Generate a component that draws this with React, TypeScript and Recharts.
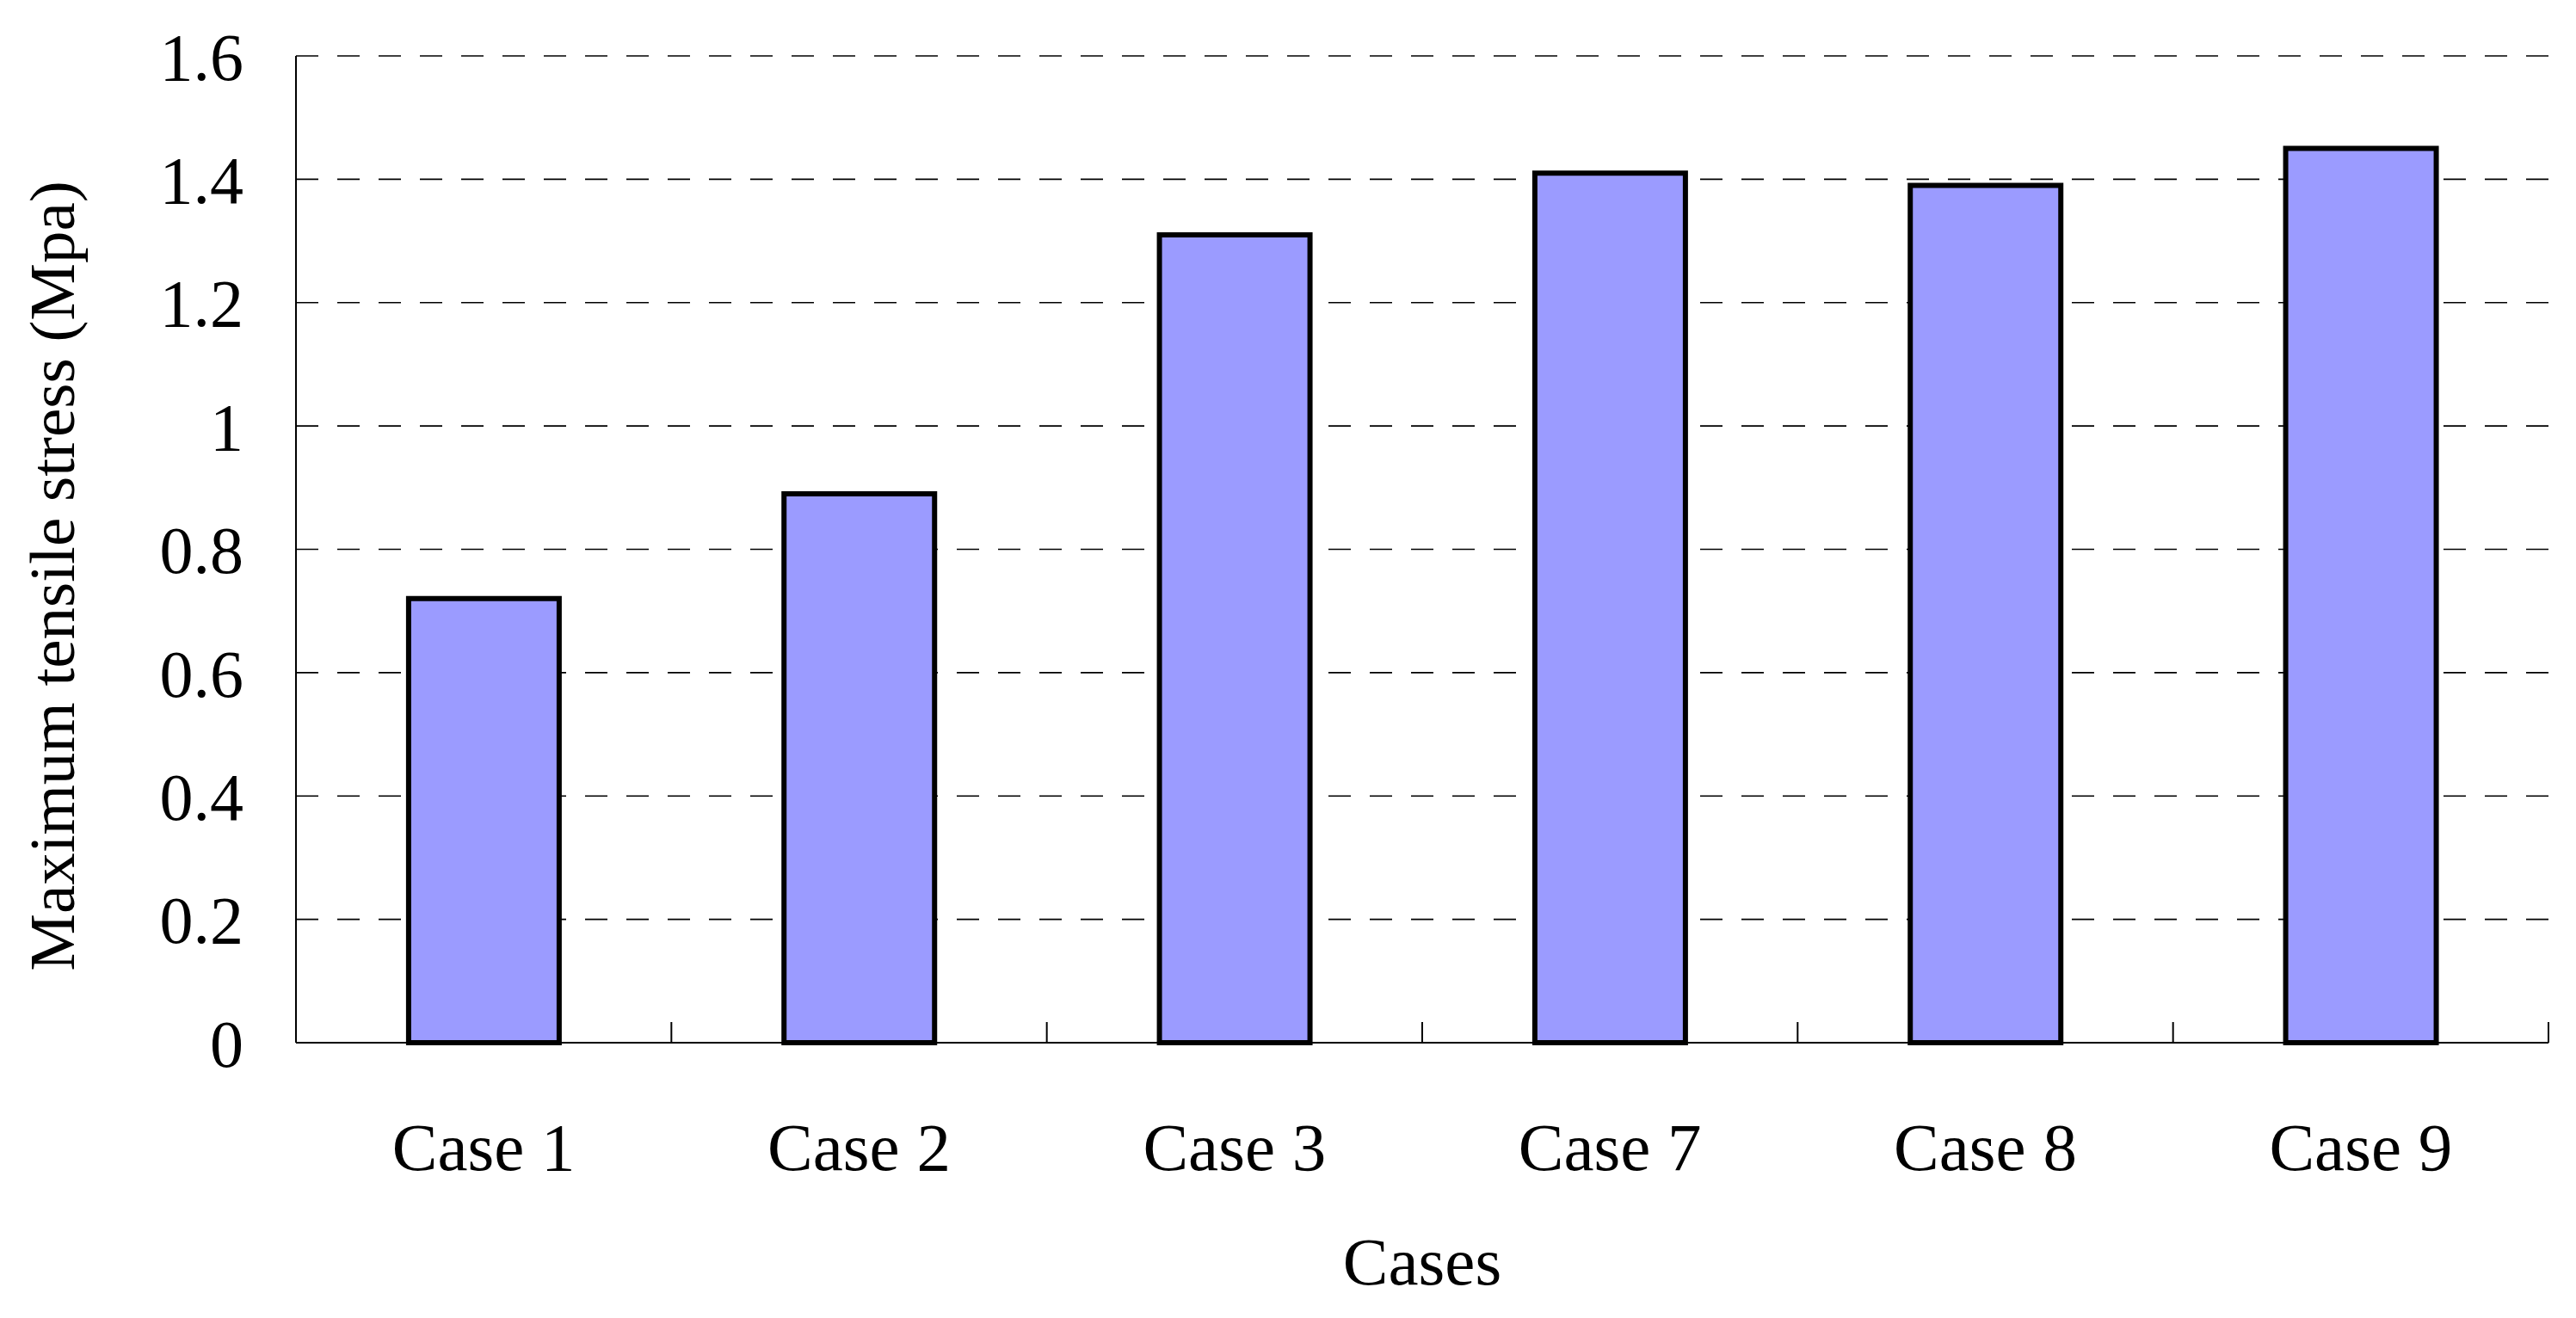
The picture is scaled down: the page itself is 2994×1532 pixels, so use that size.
import React from "react";
import { BarChart, Bar, XAxis, YAxis, CartesianGrid } from "recharts";

const categories = ["Case 1", "Case 2", "Case 3", "Case 7", "Case 8", "Case 9"];
const stressValues = [0.72, 0.89, 1.31, 1.41, 1.39, 1.45];
const yTicks = [0, 0.2, 0.4, 0.6, 0.8, 1, 1.2, 1.4, 1.6];

const data = categories.map((name, i) => ({ name, stress: stressValues[i] }));

const FONT = "'Liberation Serif', 'Times New Roman', serif";
const X_TICK_MARGIN = 92;
const EDGE_TICK = 24;

// category label plus the small upward tick at the right edge of its band
const CaseTick = (props: any) => {
  const { x, y, payload, width, visibleTicksCount } = props;
  const band = (width || 2618) / (visibleTicksCount || categories.length);
  const axisY = y - X_TICK_MARGIN;
  const edgeX = x + band / 2;
  return (
    <g>
      <line x1={edgeX} x2={edgeX} y1={axisY} y2={axisY - EDGE_TICK} stroke="#000" strokeWidth={2} />
      <text
        x={x}
        y={y}
        dy="0.71em"
        textAnchor="middle"
        fontFamily={FONT}
        fontSize={79}
        fill="#000"
      >
        {payload.value}
      </text>
    </g>
  );
};

const YTitle = (props: any) => {
  const vb = props.viewBox || {};
  const x = vb.x + 78;
  const y = vb.y + vb.height / 2 + 31;
  return (
    <text
      x={x}
      y={y}
      transform={`rotate(-90, ${x}, ${y})`}
      textAnchor="middle"
      fontFamily={FONT}
      fontSize={75}
      fill="#000"
    >
      Maximum tensile stress (Mpa)
    </text>
  );
};

export default function App() {
  return (
    <div style={{ width: 2978, height: 1516 }}>
      <BarChart
        width={2978}
        height={1516}
        data={data}
        margin={{ top: 57, right: 24, bottom: 0, left: 0 }}
        barCategoryGap="30%"
      >
        <CartesianGrid
          vertical={false}
          stroke="#000"
          strokeWidth={1.6}
          strokeDasharray="26 22"
        />
        <XAxis
          dataKey="name"
          height={312}
          interval={0}
          tickLine={false}
          tickSize={0}
          tickMargin={X_TICK_MARGIN}
          axisLine={{ stroke: "#000", strokeWidth: 2 }}
          tick={<CaseTick />}
          label={{
            value: "Cases",
            position: "insideBottom",
            offset: 31,
            style: { fontFamily: FONT, fontSize: 79, fill: "#000" },
          }}
        />
        <YAxis
          width={336}
          domain={[0, 1.6]}
          ticks={yTicks}
          interval={0}
          tickLine={false}
          tickSize={0}
          tickMargin={61}
          axisLine={{ stroke: "#000", strokeWidth: 2 }}
          tick={{ fontFamily: FONT, fontSize: 78, fill: "#000" }}
          label={<YTitle />}
        />
        <Bar
          dataKey="stress"
          fill="#9B9BFF"
          stroke="#000"
          strokeWidth={6}
          isAnimationActive={false}
        />
      </BarChart>
    </div>
  );
}
